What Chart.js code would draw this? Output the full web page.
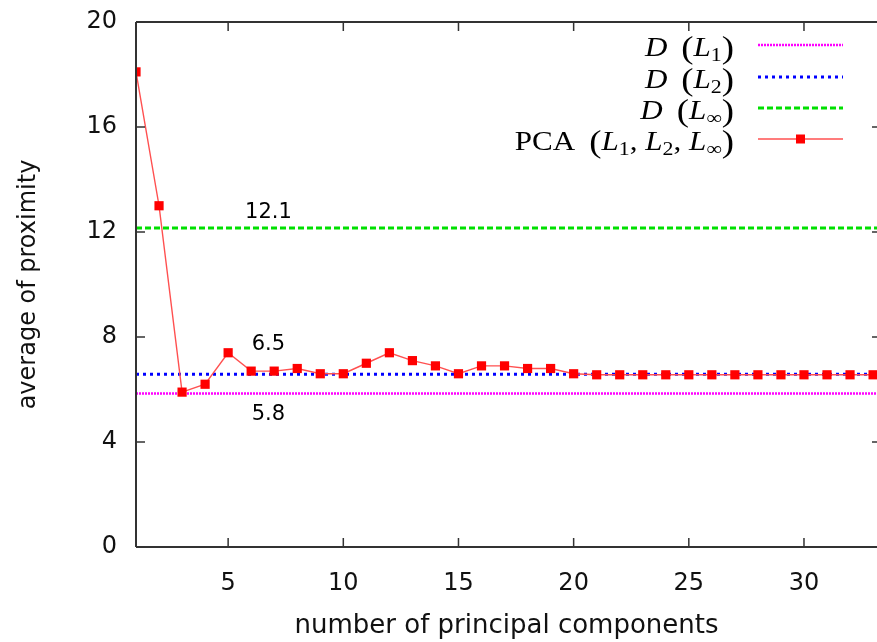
<!DOCTYPE html>
<html>
<head>
<meta charset="utf-8">
<title>average of proximity</title>
<script src="https://cdn.jsdelivr.net/npm/chart.js@4"></script>
<style>
  html, body { margin: 0; padding: 0; background: #fff; }
</style>
</head>
<body>
<canvas id="chart" width="877" height="642"></canvas>
<script>
// values
const components = [1, 2, 3, 4, 5, 6, 7, 8, 9, 10, 11, 12, 13, 14, 15, 16, 17, 18, 19, 20,
  21, 22, 23, 24, 25, 26, 27, 28, 29, 30, 31, 32, 33];
const pcaValues = [18.1, 13.0, 5.9, 6.2, 7.4, 6.7, 6.7, 6.8, 6.6, 6.6, 7.0, 7.4, 7.1, 6.9, 6.6, 6.9, 6.9, 6.8, 6.8, 6.6,
  6.56, 6.56, 6.56, 6.56, 6.56, 6.56, 6.56, 6.56, 6.56, 6.56, 6.56, 6.56, 6.56];
const refNames = ['D (L1)', 'D (L2)', 'D (Linf)'];
const refValues = [5.85, 6.58, 12.15];
const refLabels = ['5.8', '6.5', '12.1'];
const xTicks = [5, 10, 15, 20, 25, 30];
const yTicks = [0, 4, 8, 12, 16, 20];

const xMin = 1, xMax = 33.17;

const refStyles = [
  { color: '#ff00ff', dash: [2, 1], width: 2.5, labelOffset: 21 },
  { color: '#0000ff', dash: [3, 4], width: 3, labelOffset: -30 },
  { color: '#00e000', dash: [6, 3], width: 3, labelOffset: -16 }
];

const datasets = refValues.map((v, i) => ({
  label: refNames[i],
  data: [{ x: xMin, y: v }, { x: xMax, y: v }],
  borderColor: refStyles[i].color,
  borderDash: refStyles[i].dash,
  borderWidth: refStyles[i].width,
  pointRadius: 0,
  order: 2
}));
datasets.push({
  label: 'PCA',
  data: components.map((c, i) => ({ x: c, y: pcaValues[i] })),
  borderColor: '#ff5050',
  borderWidth: 1.4,
  pointStyle: 'rect',
  pointRadius: 6.5,
  pointBackgroundColor: '#ff0000',
  pointBorderColor: '#ff0000',
  pointBorderWidth: 0,
  order: 1
});

// frame + inner tick marks, like gnuplot
const framePlugin = {
  id: 'frame',
  afterDatasetsDraw(chart) {
    const { ctx, chartArea: a, scales } = chart;
    ctx.save();
    ctx.strokeStyle = '#333';
    ctx.lineWidth = 2;
    ctx.beginPath();
    ctx.moveTo(a.left, a.top); ctx.lineTo(a.right + 3, a.top);
    ctx.moveTo(a.left, a.top); ctx.lineTo(a.left, a.bottom);
    ctx.moveTo(a.left, a.bottom); ctx.lineTo(a.right + 3, a.bottom);
    ctx.moveTo(a.right + 2, a.top); ctx.lineTo(a.right + 2, a.bottom);
    ctx.stroke();
    ctx.lineWidth = 1.5;
    ctx.beginPath();
    xTicks.forEach(v => {
      const px = scales.x.getPixelForValue(v);
      ctx.moveTo(px, a.bottom); ctx.lineTo(px, a.bottom - 9);
      ctx.moveTo(px, a.top); ctx.lineTo(px, a.top + 9);
    });
    yTicks.forEach(v => {
      const py = scales.y.getPixelForValue(v);
      ctx.moveTo(a.left, py); ctx.lineTo(a.left + 9, py);
      ctx.moveTo(a.right + 2, py); ctx.lineTo(a.right - 5, py);
    });
    ctx.stroke();
    ctx.restore();
  }
};

// the numbers written next to the reference lines
const refTextPlugin = {
  id: 'refText',
  afterDatasetsDraw(chart) {
    const { ctx, scales } = chart;
    ctx.save();
    ctx.font = '21px "DejaVu Sans"';
    ctx.fillStyle = '#000';
    ctx.textAlign = 'center';
    ctx.textBaseline = 'middle';
    refValues.forEach((v, i) => {
      const px = scales.x.getPixelForValue(6.75);
      const py = scales.y.getPixelForValue(v) + refStyles[i].labelOffset;
      ctx.fillText(refLabels[i], px, py);
    });
    ctx.restore();
  }
};

// legend with math-style labels, text right aligned and sample on the right
const legendRows = [
  { parts: [['D', 'i'], ['', 'g'], ['(', 'p'], ['L', 'i'], ['1', 's'], [')', 'p']], ref: 0 },
  { parts: [['D', 'i'], ['', 'g'], ['(', 'p'], ['L', 'i'], ['2', 's'], [')', 'p']], ref: 1 },
  { parts: [['D', 'i'], ['', 'g'], ['(', 'p'], ['L', 'i'], ['\u221E', 's'], [')', 'p']], ref: 2 },
  { parts: [['PCA', 'r'], ['', 'g'], ['(', 'p'], ['L', 'i'], ['1', 's'], [', ', 'r'], ['L', 'i'], ['2', 's'], [', ', 'r'], ['L', 'i'], ['\u221E', 's'], [')', 'p']], ref: -1 }
];
const legendPlugin = {
  id: 'mathLegend',
  afterDraw(chart) {
    const ctx = chart.ctx;
    const size = 27;
    const fonts = {
      i: `italic ${size}px "Liberation Serif"`,
      r: `${size}px "Liberation Serif"`,
      g: `${size}px "Liberation Serif"`,
      p: `${size + 5}px "Liberation Serif"`,
      s: `${Math.round(size * 0.7)}px "Liberation Serif"`
    };
    const stretch = 1.15;
    const rowY = [45, 77, 108, 139];
    const textRight = 734, lineL = 758, lineR = 843;
    ctx.save();
    ctx.fillStyle = '#000';
    ctx.textBaseline = 'alphabetic';
    legendRows.forEach((row, r) => {
      const base = rowY[r] + 11;
      const widths = row.parts.map(p => {
        if (p[1] === 'g') return size * 0.45;
        ctx.font = fonts[p[1]];
        return ctx.measureText(p[0]).width;
      });
      ctx.save();
      ctx.translate(textRight, 0);
      ctx.scale(stretch, 1);
      let x = -widths.reduce((s, w) => s + w, 0);
      row.parts.forEach((p, k) => {
        ctx.font = fonts[p[1]];
        let y = base;
        if (p[1] === 's') y = base + 5;
        if (p[1] === 'p') y = base + 2;
        if (p[0]) ctx.fillText(p[0], x, y);
        x += widths[k];
      });
      ctx.restore();
      ctx.beginPath();
      ctx.moveTo(lineL, rowY[r]); ctx.lineTo(lineR, rowY[r]);
      if (row.ref >= 0) {
        const st = refStyles[row.ref];
        ctx.strokeStyle = st.color; ctx.lineWidth = st.width; ctx.setLineDash(st.dash);
        ctx.stroke();
        ctx.setLineDash([]);
      } else {
        ctx.strokeStyle = '#ff5050'; ctx.lineWidth = 1.4;
        ctx.stroke();
        ctx.fillStyle = '#ff0000';
        ctx.fillRect((lineL + lineR) / 2 - 4.5, rowY[r] - 4.5, 9, 9);
        ctx.fillStyle = '#000';
      }
    });
    ctx.restore();
  }
};

new Chart(document.getElementById('chart'), {
  type: 'line',
  data: { datasets: datasets },
  options: {
    responsive: false,
    animation: false,
    layout: { autoPadding: false, padding: { top: 22, right: 0, left: 0, bottom: 0 } },
    plugins: { legend: { display: false }, tooltip: { enabled: false } },
    scales: {
      x: {
        type: 'linear',
        min: xMin,
        max: xMax,
        afterBuildTicks: s => { s.ticks = xTicks.map(v => ({ value: v })); },
        afterFit: s => { s.height = 95; s.paddingLeft = 0; s.paddingRight = 0; },
        grid: { display: false, drawTicks: false },
        border: { display: false },
        ticks: { autoSkip: false, maxRotation: 0, padding: 22, color: '#111', font: { family: 'DejaVu Sans', size: 24 } },
        title: { display: true, text: 'number of principal components', color: '#111',
          font: { family: 'DejaVu Sans', size: 26 }, padding: { top: 0, bottom: 0 } }
      },
      y: {
        min: 0,
        max: 20,
        afterBuildTicks: s => { s.ticks = yTicks.map(v => ({ value: v })); },
        afterFit: s => { s.width = 136; s.paddingTop = 0; s.paddingBottom = 0; },
        grid: { display: false, drawTicks: false },
        border: { display: false },
        ticks: { autoSkip: false, padding: 19, color: '#111', font: { family: 'DejaVu Sans', size: 24 } },
        title: { display: true, text: 'average of proximity', color: '#111',
          font: { family: 'DejaVu Sans', size: 24 }, padding: { top: 14, bottom: 0 } }
      }
    }
  },
  plugins: [framePlugin, refTextPlugin, legendPlugin]
});
</script>
</body>
</html>
